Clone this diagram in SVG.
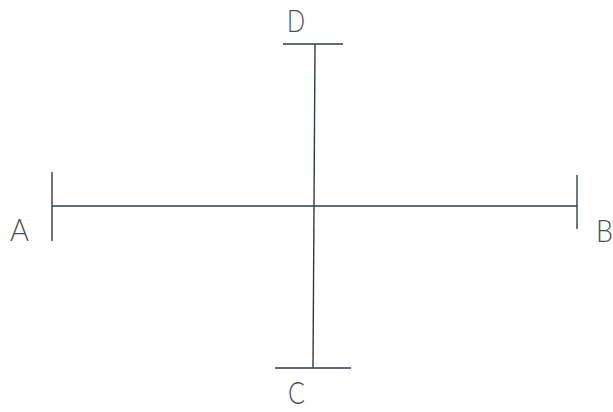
<svg xmlns="http://www.w3.org/2000/svg" width="613" height="412" viewBox="0 0 613 412">
<style>
.ln{stroke:#2f3b4c;stroke-width:1.4;fill:none}
.lb{font-family:Lato,"Open Sans","Liberation Sans",sans-serif;font-weight:300;font-size:31px;fill:#4a4f57}
</style>
<rect width="613" height="412" fill="#fff"/>
<g id="connectors">
<line class="ln" x1="52" y1="206" x2="577" y2="206"/>
<line class="ln" x1="315" y1="44" x2="313" y2="368"/>
</g>
<g id="A"><line class="ln" x1="52" y1="172" x2="52" y2="241"/><text class="lb" x="10" y="241" textLength="19" lengthAdjust="spacingAndGlyphs">A</text></g>
<g id="B"><line class="ln" x1="577" y1="175" x2="577" y2="229"/><text class="lb" x="596" y="242" textLength="17" lengthAdjust="spacingAndGlyphs">B</text></g>
<g id="D"><line class="ln" x1="283" y1="44" x2="343" y2="44"/><text class="lb" x="287" y="32" textLength="18" lengthAdjust="spacingAndGlyphs">D</text></g>
<g id="C"><line class="ln" x1="275" y1="368" x2="351" y2="368"/><text class="lb" x="288" y="404" textLength="17" lengthAdjust="spacingAndGlyphs">C</text></g>
</svg>
